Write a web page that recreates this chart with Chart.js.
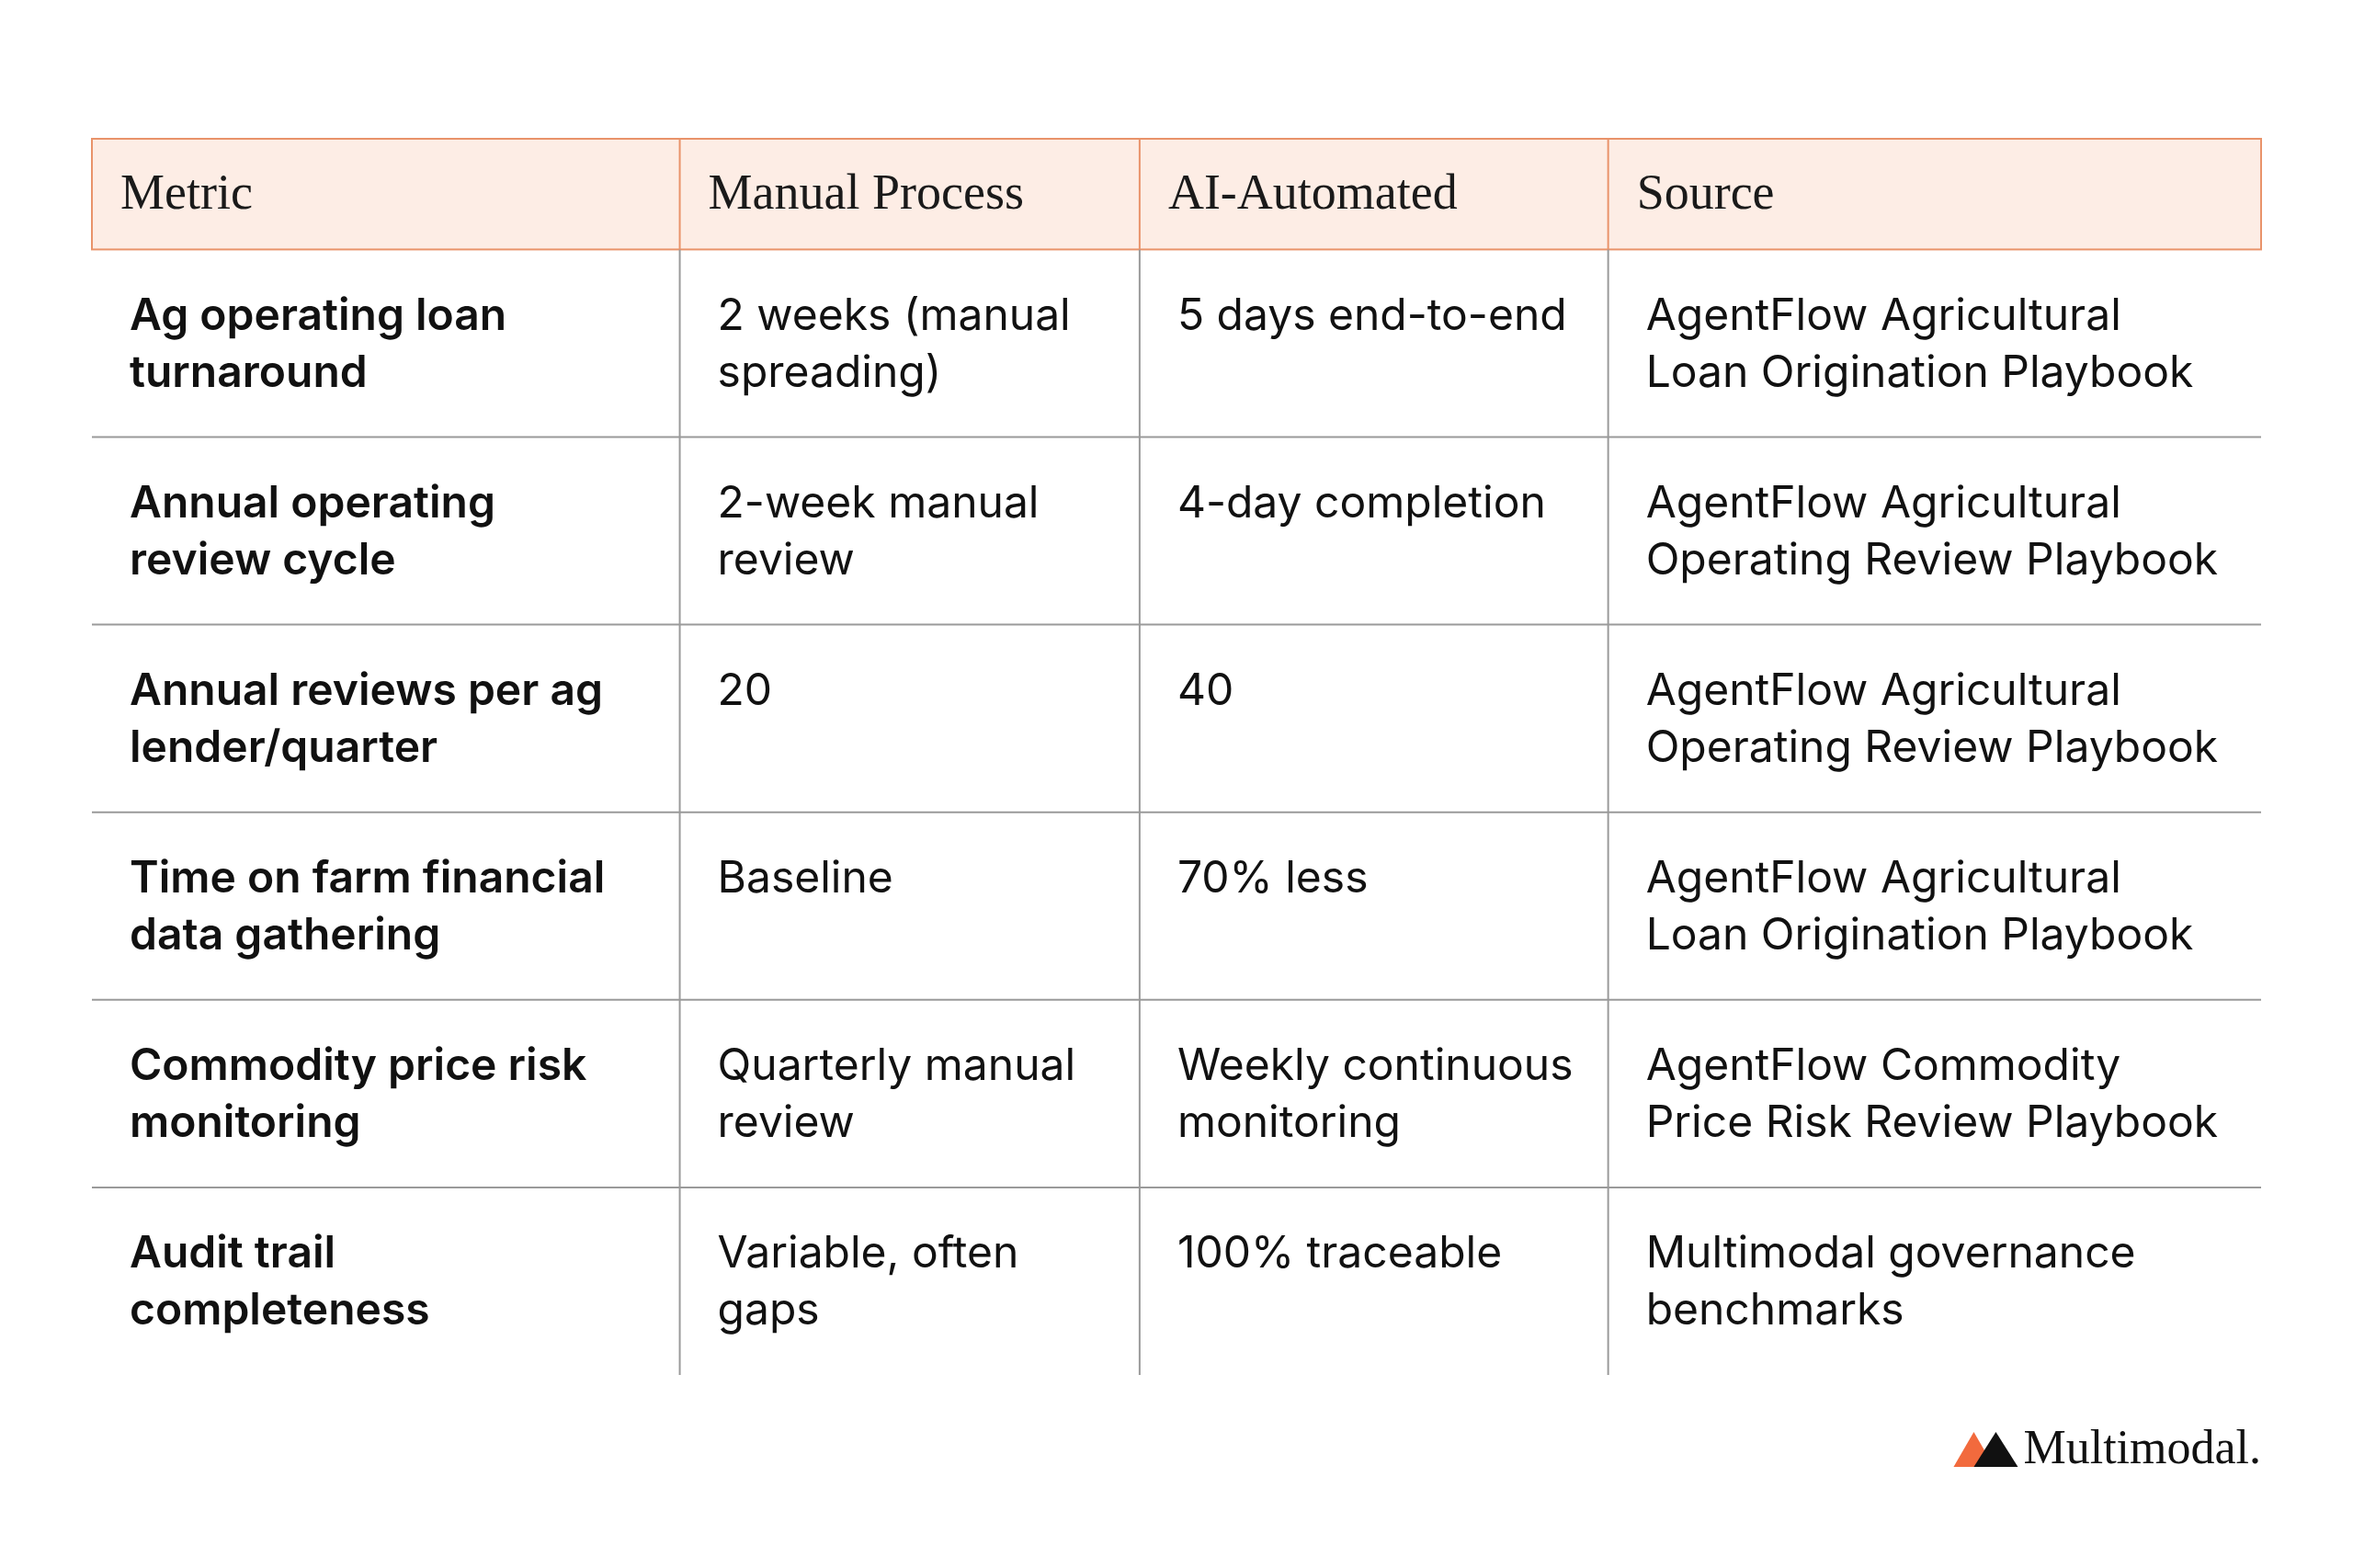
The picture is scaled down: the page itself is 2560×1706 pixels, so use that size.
<!DOCTYPE html>
<html>
<head>
<script src="https://cdn.jsdelivr.net/npm/chart.js"></script>
<style>body{margin:0;background:#fff}</style>
</head>
<body>
<canvas id="tbl" width="2560" height="1706"></canvas>
<script>
// table content
var headers = ["Metric", "Manual Process", "AI-Automated", "Source"];
var metrics = [
  ["Ag operating loan", "turnaround"],
  ["Annual operating", "review cycle"],
  ["Annual reviews per ag", "lender/quarter"],
  ["Time on farm financial", "data gathering"],
  ["Commodity price risk", "monitoring"],
  ["Audit trail", "completeness"]
];
var manual = [
  ["2 weeks (manual", "spreading)"],
  ["2-week manual", "review"],
  ["20"],
  ["Baseline"],
  ["Quarterly manual", "review"],
  ["Variable, often", "gaps"]
];
var automated = [
  ["5 days end-to-end"],
  ["4-day completion"],
  ["40"],
  ["70% less"],
  ["Weekly continuous", "monitoring"],
  ["100% traceable"]
];
var sources = [
  ["AgentFlow Agricultural", "Loan Origination Playbook"],
  ["AgentFlow Agricultural", "Operating Review Playbook"],
  ["AgentFlow Agricultural", "Operating Review Playbook"],
  ["AgentFlow Agricultural", "Loan Origination Playbook"],
  ["AgentFlow Commodity", "Price Risk Review Playbook"],
  ["Multimodal governance", "benchmarks"]
];
// column edges in table-width units
var colEdges = [0, 0.271, 0.483, 0.699, 1];
var headerSpan = 0.59; // header height in row units

var tablePlugin = {
  id: "tablePlugin",
  afterDraw: function (chart) {
    var c = chart.ctx, xs = chart.scales.x, ys = chart.scales.y;
    var X = function (v) { return xs.getPixelForValue(v); };
    var Y = function (v) { return ys.getPixelForValue(v); };
    var cols = [metrics, manual, automated, sources];
    var n = metrics.length;
    c.save();
    // header
    c.fillStyle = "#FDEDE5";
    c.fillRect(X(0), Y(-headerSpan), X(1) - X(0), Y(0) - Y(-headerSpan));
    c.strokeStyle = "#E9936A"; c.lineWidth = 2;
    c.strokeRect(X(0), Y(-headerSpan), X(1) - X(0), Y(0) - Y(-headerSpan));
    for (var k = 1; k < 4; k++) {
      c.beginPath(); c.moveTo(X(colEdges[k]), Y(-headerSpan)); c.lineTo(X(colEdges[k]), Y(0)); c.stroke();
    }
    c.fillStyle = "#1a1a1a"; c.textBaseline = "middle";
    c.font = "54px 'Liberation Serif'";
    for (k = 0; k < 4; k++) {
      c.fillText(headers[k], X(colEdges[k]) + 31, Y(-headerSpan / 2) + 2);
    }
    // grid
    c.strokeStyle = "#9a9a9a"; c.lineWidth = 2;
    for (var r = 1; r < n; r++) {
      c.beginPath(); c.moveTo(X(0), Y(r)); c.lineTo(X(1), Y(r)); c.stroke();
    }
    for (k = 1; k < 4; k++) {
      c.beginPath(); c.moveTo(X(colEdges[k]), Y(0)); c.lineTo(X(colEdges[k]), Y(n)); c.stroke();
    }
    // cells
    for (r = 0; r < n; r++) {
      for (k = 0; k < 4; k++) {
        c.font = (k === 0 ? "600 " : "400 ") + "48px Inter";
        c.fillStyle = "#111";
        var lines = cols[k][r];
        for (var l = 0; l < lines.length; l++) {
          c.fillText(lines[l], X(colEdges[k]) + 41, Y(r) + 73 + l * 62);
        }
      }
    }
    // logo
    var lx = X(1), ly = Y(n) + 82;
    c.font = "52px 'Liberation Serif'"; c.textAlign = "right";
    c.fillStyle = "#111";
    c.fillText("Multimodal.", lx, ly);
    var tw = c.measureText("Multimodal.").width;
    var mx = lx - tw - 76;
    c.fillStyle = "#F26A3D";
    c.beginPath(); c.moveTo(mx, ly + 18); c.lineTo(mx + 22, ly - 20); c.lineTo(mx + 44, ly + 18); c.closePath(); c.fill();
    c.fillStyle = "#111";
    c.beginPath(); c.moveTo(mx + 22, ly + 18); c.lineTo(mx + 46, ly - 20); c.lineTo(mx + 70, ly + 18); c.closePath(); c.fill();
    c.restore();
  }
};

new Chart(document.getElementById("tbl").getContext("2d"), {
  type: "scatter",
  data: { datasets: [{ data: [] }] },
  options: {
    responsive: false,
    animation: false,
    devicePixelRatio: 1,
    layout: { padding: { left: 100, right: 100, top: 151, bottom: 210 } },
    plugins: { legend: { display: false }, tooltip: { enabled: false } },
    scales: {
      x: { type: "linear", min: 0, max: 1, display: false },
      y: { type: "linear", min: -headerSpan, max: metrics.length, reverse: true, display: false }
    }
  },
  plugins: [tablePlugin]
});
</script>
</body>
</html>
